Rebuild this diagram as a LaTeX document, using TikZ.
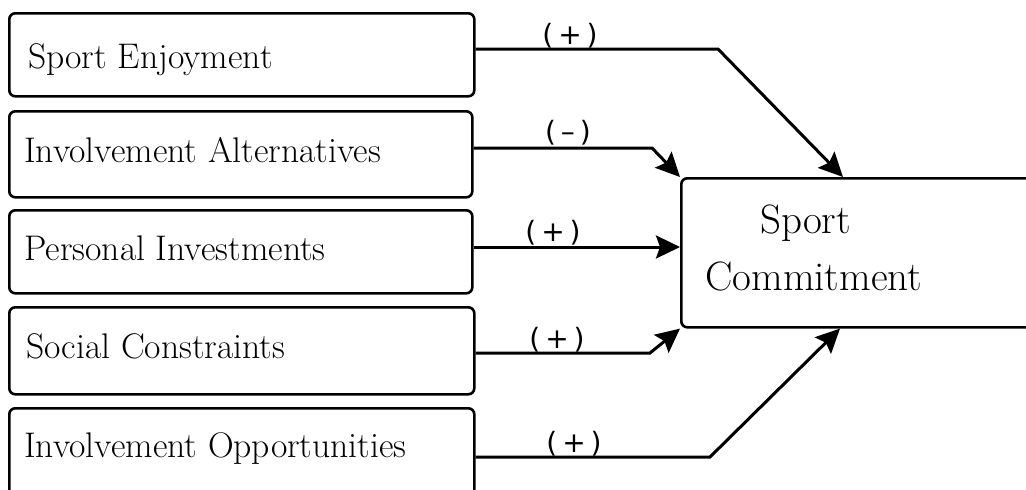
\documentclass[tikz,border=0pt]{standalone}
\usepackage{fontspec}
\newfontfamily\labfont{DejaVu Sans}
\usetikzlibrary{arrows.meta}
\tikzset{
  box/.style={draw, line width=2.6pt, rounded corners=6pt, anchor=north west, inner sep=0pt},
  boxtext/.style={anchor=base west, inner sep=0pt, font=\fontsize{35.6}{42}\selectfont},
  bigtext/.style={anchor=base west, inner sep=0pt, font=\fontsize{41}{48}\selectfont},
  conn/.style={line width=3pt, line join=miter, -{Stealth[length=24pt, width=23pt, inset=4pt]}},
  lab/.style={inner sep=0pt, font=\labfont\fontsize{28}{32}\selectfont}
}
\begin{document}
\begin{tikzpicture}[x=1pt, y=-1pt]
\clip (0,0) rectangle (1026,490);
\fill[white] (0,0) rectangle (1026,490);
% left boxes
\node[box, minimum width=465pt, minimum height=83pt] (se) at (8,12) {};
\node[boxtext] (se-t) at (28,68) {Sport Enjoyment};
\node[box, minimum width=463pt, minimum height=86pt] (ia) at (8,110) {};
\node[boxtext] (ia-t) at (24,162) {Involvement Alternatives};
\node[box, minimum width=463pt, minimum height=83pt] (pi) at (8,209) {};
\node[boxtext] (pi-t) at (24,260) {Personal Investments};
\node[box, minimum width=465pt, minimum height=87pt] (soc) at (8,306) {};
\node[boxtext] (soc-t) at (26,358) {Social Constraints};
\node[box, minimum width=465pt, minimum height=110pt] (io) at (8,407) {};
\node[boxtext] (io-t) at (24,457) {Involvement Opportunities};
% right box
\node[box, minimum width=380pt, minimum height=149pt] (com) at (680,177) {};
\node[bigtext] (com-t1) at (760,233) {Sport};
\node[bigtext] (com-t2) at (705,290) {Commitment};
% bends
\coordinate (b1) at (718,49);
\coordinate (b2) at (652,148);
\coordinate (b4) at (650,353);
\coordinate (b5) at (710,457);
% connectors
\draw[conn] (se.east |- b1) -- (b1) -- ([xshift=163pt]com.north west);
\draw[conn] (ia.east |- b2) -- (b2) -- (com.north west);
\draw[conn] (pi.east |- 0,247) -- (com.west |- 0,247);
\draw[conn] (soc.east |- b4) -- (b4) -- (com.south west);
\draw[conn] (io.east |- b5) -- (b5) -- ([xshift=160pt]com.south west);
% labels
\node[lab] (l1) at (570,36) {(\hspace{5pt}+\hspace{5pt})};
\node[lab] (l2) at (568,133) {(\hspace{5pt}–\hspace{5pt})};
\node[lab] (l3) at (553,233) {(\hspace{5pt}+\hspace{5pt})};
\node[lab] (l4) at (557,340) {(\hspace{5pt}+\hspace{5pt})};
\node[lab] (l5) at (574,444) {(\hspace{5pt}+\hspace{5pt})};
\end{tikzpicture}
\end{document}
